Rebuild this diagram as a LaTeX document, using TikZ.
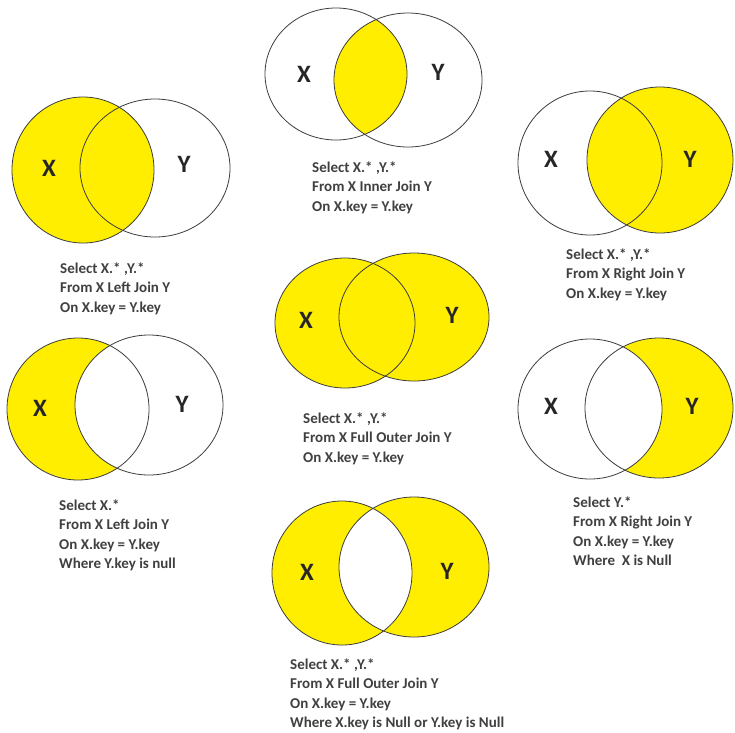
\documentclass[tikz,border=0pt]{standalone}
\usepackage{fontspec}
\setmainfont{Carlito}
\definecolor{jyel}{RGB}{255,238,0}
\definecolor{jline}{RGB}{60,60,60}
\definecolor{jtext}{RGB}{64,64,64}
\tikzset{
  venn/.style={draw=jline, line width=0.8pt},
  setlbl/.style={inner sep=0pt, font=\fontsize{25}{28}\selectfont\bfseries, text=black!85},
  sqltxt/.style={inner sep=0pt, anchor=north west, align=left, text=jtext,
     font=\fontsize{15}{19.5}\selectfont\bfseries},
}
\newcommand{\tp}{\rule{0pt}{13pt}}
\begin{document}
\begin{tikzpicture}[x=1pt,y=-1pt]
\useasboundingbox (0,0) rectangle (735,732);
\fill[white] (0,0) rectangle (735,732);

% D1 inner join
\begin{scope}
\clip (336,74) ellipse [x radius=71pt, y radius=66pt];
\fill[jyel] (408,80) ellipse [x radius=74pt, y radius=67pt];
\end{scope}
\draw[venn] (336,74) ellipse [x radius=71pt, y radius=66pt];
\draw[venn] (408,80) ellipse [x radius=74pt, y radius=67pt];
\node[setlbl] (x1) at (304,74) {X};
\node[setlbl] (y1) at (438,72) {Y};
\node[sqltxt] (t1) at (312,159) {\tp Select X.* ,Y.*\\From X Inner Join Y\\On X.key = Y.key};

% D2 left join
\fill[jyel] (83,170) ellipse [x radius=71pt, y radius=73pt];
\draw[venn] (83,170) ellipse [x radius=71pt, y radius=73pt];
\draw[venn] (155,168) ellipse [x radius=75pt, y radius=69pt];
\node[setlbl] (x2) at (49,168) {X};
\node[setlbl] (y2) at (184,164) {Y};
\node[sqltxt] (t2) at (60,260) {\tp Select X.* ,Y.*\\From X Left Join Y\\On X.key = Y.key};

% D3 right join
\fill[jyel] (660,160) ellipse [x radius=73pt, y radius=73pt];
\draw[venn] (590,163) ellipse [x radius=72pt, y radius=72pt];
\draw[venn] (660,160) ellipse [x radius=73pt, y radius=73pt];
\node[setlbl] (x3) at (551,159) {X};
\node[setlbl] (y3) at (690,159) {Y};
\node[sqltxt] (t3) at (566,246) {\tp Select X.* ,Y.*\\From X Right Join Y\\On X.key = Y.key};

% D4 full outer join
\fill[jyel] (345,323) ellipse [x radius=70pt, y radius=65pt];
\fill[jyel] (414,317) ellipse [x radius=75pt, y radius=64pt];
\draw[venn] (345,323) ellipse [x radius=70pt, y radius=65pt];
\draw[venn] (414,317) ellipse [x radius=75pt, y radius=64pt];
\node[setlbl] (x4) at (306,320) {X};
\node[setlbl] (y4) at (452,315) {Y};
\node[sqltxt] (t4) at (303,410) {\tp Select X.* ,Y.*\\From X Full Outer Join Y\\On X.key = Y.key};

% D5 left anti join
\fill[jyel] (78,409) ellipse [x radius=71pt, y radius=71pt];
\begin{scope}
\clip (78,409) ellipse [x radius=71pt, y radius=71pt];
\fill[white] (149,405) ellipse [x radius=74pt, y radius=70pt];
\end{scope}
\draw[venn] (78,409) ellipse [x radius=71pt, y radius=71pt];
\draw[venn] (149,405) ellipse [x radius=74pt, y radius=70pt];
\node[setlbl] (x5) at (40,408) {X};
\node[setlbl] (y5) at (182,404) {Y};
\node[sqltxt] (t5) at (59,497) {\tp Select X.*\\From X Left Join Y\\On X.key = Y.key\\Where Y.key is null};

% D6 right anti join
\fill[jyel] (659,408) ellipse [x radius=74pt, y radius=70pt];
\begin{scope}
\clip (659,408) ellipse [x radius=74pt, y radius=70pt];
\fill[white] (590,409) ellipse [x radius=72pt, y radius=70pt];
\end{scope}
\draw[venn] (590,409) ellipse [x radius=72pt, y radius=70pt];
\draw[venn] (659,408) ellipse [x radius=74pt, y radius=70pt];
\node[setlbl] (x6) at (551,406) {X};
\node[setlbl] (y6) at (692,406) {Y};
\node[sqltxt] (t6) at (573,494) {\tp Select Y.*\\From X Right Join Y\\On X.key = Y.key\\Where~~X is Null};

% D7 full anti join
\fill[jyel] (342,573) ellipse [x radius=70pt, y radius=72pt];
\fill[jyel] (414,567) ellipse [x radius=75pt, y radius=70pt];
\begin{scope}
\clip (342,573) ellipse [x radius=70pt, y radius=72pt];
\fill[white] (414,567) ellipse [x radius=75pt, y radius=70pt];
\end{scope}
\draw[venn] (342,573) ellipse [x radius=70pt, y radius=72pt];
\draw[venn] (414,567) ellipse [x radius=75pt, y radius=70pt];
\node[setlbl] (x7) at (307,572) {X};
\node[setlbl] (y7) at (447,571) {Y};
\node[sqltxt] (t7) at (290,656) {\tp Select X.* ,Y.*\\From X Full Outer Join Y\\On X.key = Y.key\\Where X.key is Null or Y.key is Null};
\end{tikzpicture}
\end{document}
